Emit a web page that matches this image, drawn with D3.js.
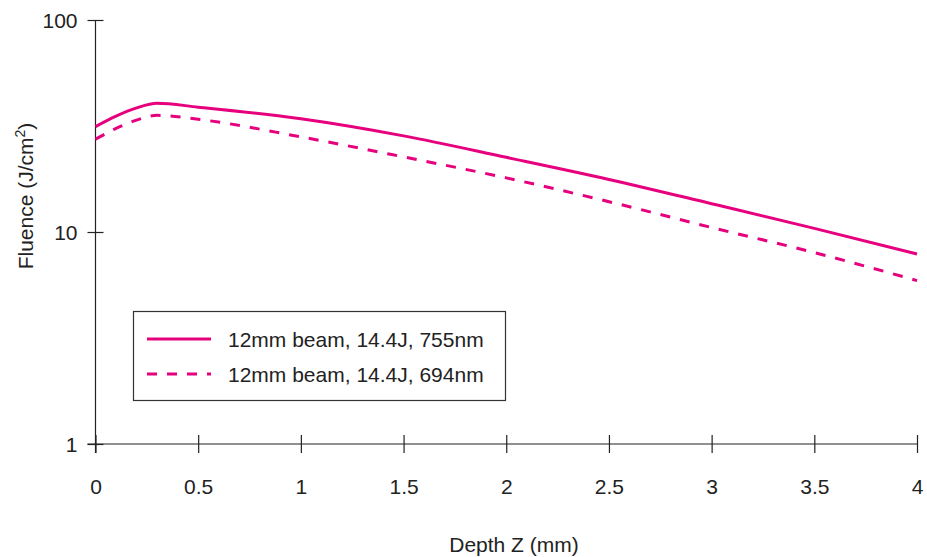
<!DOCTYPE html>
<html>
<head>
<meta charset="utf-8">
<script src="https://cdn.jsdelivr.net/npm/d3@7/dist/d3.min.js"></script>
<style>
  body { margin: 0; background: #fff; }
  svg { display: block; font-family: "Liberation Sans", Arial, sans-serif; }
</style>
</head>
<body>
<div id="chart"></div>
<script>
// depth in mm, fluence in J/cm^2
const depth      = [0, 0.1, 0.2, 0.3, 0.5, 1, 1.5, 2, 2.5, 3, 3.5, 4];
const fluence755 = [31.4, 35.2, 38.5, 40.5, 38.8, 34.2, 28.4, 22.5, 17.7, 13.6, 10.4, 7.87];
const fluence694 = [27.4, 30.8, 33.7, 35.5, 34.0, 28.1, 22.6, 18.0, 13.9, 10.5, 8.0, 5.9];

const xTicks = [0, 0.5, 1, 1.5, 2, 2.5, 3, 3.5, 4];
const yTicks = [1, 10, 100];

const series = [
  { label: '12mm beam, 14.4J, 755nm', values: fluence755, dash: null },
  { label: '12mm beam, 14.4J, 694nm', values: fluence694, dash: '10,10' },
];

const W = 927, H = 557;
const LINE = '#e6007e';
const INK = '#222';

const svg = d3.select('#chart').append('svg')
  .attr('width', W).attr('height', H);

const x = d3.scaleLinear().domain([0, 4]).range([95.5, 917]);
const y = d3.scaleLog().domain([1, 100]).range([444, 20]);

// — axes ————————————————————————————————
const xAxis = svg.append('g')
  .attr('transform', `translate(0,${y(1)})`)
  .call(d3.axisBottom(x).tickValues(xTicks).tickFormat(d3.format('')).tickSizeOuter(0));
xAxis.select('.domain').attr('d', `M${x(0) - 8},0H${x(4)}`);
xAxis.selectAll('.tick line').attr('y1', -9).attr('y2', 9);
xAxis.selectAll('.tick text').attr('y', 50).attr('dy', 0);

const yAxis = svg.append('g')
  .attr('transform', `translate(${x(0)},0)`)
  .call(d3.axisLeft(y).tickValues(yTicks).tickFormat(d3.format('')).tickSizeOuter(0));
yAxis.select('.domain').attr('d', `M0,${y(100)}V${y(1) + 9}`);
yAxis.selectAll('.tick line').attr('x1', -8).attr('x2', 8);
yAxis.selectAll('.tick text').attr('x', -18).attr('dy', '0.35em');

svg.selectAll('.domain, .tick line').attr('stroke', INK).attr('stroke-width', 1.2);
svg.selectAll('.tick text')
  .attr('fill', INK)
  .style('font-size', '21px')
  .style('font-family', '"Liberation Sans", Arial, sans-serif');

// axis titles
svg.append('text')
  .attr('x', 514).attr('y', 552)
  .attr('text-anchor', 'middle')
  .attr('fill', INK).style('font-size', '21px')
  .text('Depth Z (mm)');

const yt = svg.append('text')
  .attr('transform', 'translate(33,196) rotate(-90)')
  .attr('text-anchor', 'middle')
  .attr('fill', INK).style('font-size', '21px');
yt.append('tspan').text('Fluence (J/cm');
yt.append('tspan').attr('dy', -8).style('font-size', '14px').text('2');
yt.append('tspan').attr('dy', 8).text(')');

// — lines ————————————————————————————————
const line = d3.line()
  .x((d, i) => x(depth[i]))
  .y(d => y(d))
  .curve(d3.curveMonotoneX);

svg.selectAll('.series')
  .data(series)
  .join('path')
  .attr('class', 'series')
  .attr('fill', 'none')
  .attr('stroke', LINE)
  .attr('stroke-width', 3)
  .attr('stroke-dasharray', d => d.dash)
  .attr('d', d => line(d.values));

// — legend ————————————————————————————————
const lg = svg.append('g');
lg.append('rect')
  .attr('x', 133.5).attr('y', 311.5)
  .attr('width', 372).attr('height', 89)
  .attr('fill', '#fff')
  .attr('stroke', '#333').attr('stroke-width', 1.2);

series.forEach((s, i) => {
  const cy = 339 + i * 35;
  lg.append('line')
    .attr('x1', 147).attr('x2', 211)
    .attr('y1', cy).attr('y2', cy)
    .attr('stroke', LINE).attr('stroke-width', 3)
    .attr('stroke-dasharray', s.dash);
  lg.append('text')
    .attr('x', 228).attr('y', cy + 8)
    .attr('fill', INK).style('font-size', '21px')
    .text(s.label);
});
</script>
</body>
</html>
